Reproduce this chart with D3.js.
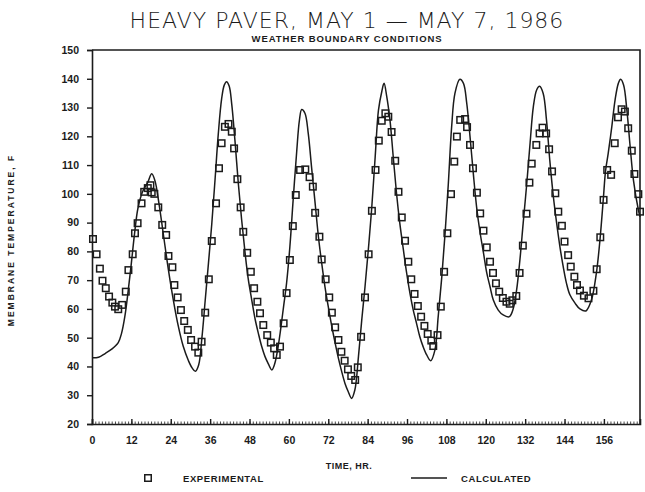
<!DOCTYPE html>
<html><head><meta charset="utf-8">
<script src="https://cdn.jsdelivr.net/npm/d3@7"></script>
<style>body{margin:0;background:#fff}svg{display:block}</style>
</head><body><svg id="c" width="645" height="492"></svg>
<script>
// ---- data ----
const xTickValues = [0,12,24,36,48,60,72,84,96,108,120,132,144,156];
const yTickValues = [20,30,40,50,60,70,80,90,100,110,120,130,140,150];

const calcTime = [0,2,4,6,8,9,10,11,12,13,14,15.5,17,18.2,19.2,20.4,21.7,23.3,24.8,26.3,27.8,29.4,30.5,31.5,32.5,33.5,34.5,35.5,36.5,37.5,38.5,39.5,40.3,41,41.8,42.6,43.6,44.6,45.6,46.6,47.6,48.7,49.7,50.7,51.7,52.7,53.7,54.8,55.7,56.6,57.5,58.4,59.3,60.3,61.3,62.4,63.2,63.9,64.9,65.9,66.9,68,69,70,71,72,73.1,74.1,75.1,76.1,77.1,78.1,79.1,80.1,81.2,82.2,83.2,84.2,85.2,86.3,87.3,88.3,89,89.8,90.8,91.8,92.8,93.8,94.9,95.9,96.9,97.9,98.9,99.9,100.9,102,103.2,104.5,105.5,106.6,107.6,108.6,109.6,110.6,112.1,113.2,114.2,115.2,116.2,117.2,118.2,119.3,120.3,121.3,122.3,123.8,125.3,127.2,128.4,129.4,130.4,131.4,132.5,133.5,134.5,135.5,136.4,137.5,138.5,139.5,140.6,141.6,142.6,143.6,144.6,145.6,147.2,148.7,150.5,152.2,153.7,154.8,155.8,156.5,157.3,158.4,159.4,160.4,161.1,162,163,164,165,166.5,167];
const calcTemp = [43,43.2,44.5,46,48.3,51.5,57.3,66,76,86.5,95,101,104,107,104.5,96.7,86.3,73.5,63,54,47,42,39.5,38.3,40.5,50,63,76,89.5,105,121,133,137.8,139,137.5,131,118,103.5,91,80,70.5,63,56.5,51.5,47,43.5,41,38.8,41,46,53,61,69,81.6,97.9,115,125.5,129.3,128,121,109.4,96.7,85.1,75.9,67.7,60.8,53.8,48.1,42.8,38.2,34.1,31.2,28.9,31.8,43.4,56.1,67.7,80.5,94.4,112.9,129.1,135.5,138.4,134,125.7,112.9,100.2,89.8,80.5,72.4,65.4,59.6,55,50.3,46.9,44,42,45.7,57.3,71.2,86.3,103.7,123.3,134.9,139.8,138.4,131.5,119.9,107.1,95.5,87,79.5,72.5,67.7,63.1,59.6,57.9,57.3,60.2,66.6,77,89.8,103.7,117.6,130.3,136.1,137.4,134.9,125.7,111.8,99,89.8,81.6,74.7,68.9,65,62,60,59.3,63.1,72.4,84,97.9,108,114,123.3,132.6,138.4,139.8,137.8,129.1,116.4,104.8,94.4,92];

const expTime = [0.3,1.4,2.4,3.2,4.2,5.2,6.2,7,8,9.2,10.3,11.1,12.4,13.1,13.9,15.1,15.9,17,17.8,18.2,19,20.2,21.4,22.6,23.3,24.5,25.1,26.1,27.1,28.1,29.2,30.2,31.4,32.4,33.4,34.5,35.6,36.5,37.8,38.7,39.5,40.5,41.6,42.6,43.3,44.3,45.3,46.1,47.3,48.4,49.4,50.4,51.2,52.2,53.4,54.5,55.5,56.3,57.3,58.4,59.3,60.3,61.2,62.1,63.4,65,66.3,67.3,68,69.3,70,71.2,72.3,73.1,74.1,75.1,76,77,78,79,80.2,81,82,83.2,84.3,85.3,86.4,87.4,88.3,89.4,90.3,91.3,92.4,93.4,94.4,95.4,96.4,97.3,98.3,99.3,100.3,101.3,102.3,103.4,104,105.3,106.3,107.3,108.3,109.4,110.4,111.2,112.2,113.7,114.3,115.2,116.1,117.3,118.3,119.3,120.3,121.3,122.2,123.1,124.1,125.2,126.3,127.3,128.1,129.3,130.3,131.3,132.4,133.3,134,135.4,136.4,137.3,138.4,139.3,140.2,141.2,142.1,143.2,144,145.1,145.9,147,147.8,148.7,149.9,151.3,152.8,153.8,154.9,155.9,157,158.2,159.3,160.3,161.4,162.4,163.4,164.5,165.3,166.5,167];
const expTemp = [84.3,79,74,69.8,67.2,64.3,62.2,60.8,59.9,61.4,66,73.5,79,86.3,89.8,96.7,100.7,102,103,100.5,100,95.3,89.2,85.7,78.4,74.5,68.3,64,59.6,55.8,52.7,49.2,46.9,44.8,48.6,58.7,70.3,83.6,96.7,108.9,117.6,123.3,124.3,121.6,115.8,105.1,95.3,86.8,79.5,72.9,67.2,62.5,58.5,54.4,50.9,48.3,46.3,44,46.9,55,65.5,77,88.8,99.6,108.3,108.5,105.8,102.5,93.4,85.1,77.2,70.3,64,58.7,53.6,49.2,45.1,42,39,36.7,35.3,39.7,50.3,64,79,94.1,108.3,118.5,125.4,128,126.8,121.5,111.5,100.7,91.8,83.7,76.4,70.3,65.2,61,57.3,54.1,51.3,49,47.1,50.9,60.8,72.9,86.3,99.9,111.2,119.9,125.7,126,123.2,117,108.9,100.4,93.2,87.2,81.4,76.4,72.5,68.9,66,63.8,62.5,61.8,63,64.5,72.5,82,93.1,103.9,110.5,117,121,123,121,115.5,107.8,100.2,93.8,88.9,83.4,78.7,74.7,71.2,68.3,66.4,64.6,63.7,66.3,73.8,84.9,97.9,108.3,106.6,117.6,126.6,129.4,128.6,122.8,115,106.9,99.9,93.8];

const titleText = "HEAVY PAVER, MAY 1 \u2014 MAY 7, 1986";
const subtitleText = "WEATHER BOUNDARY CONDITIONS";
const yTitleText = "MEMBRANE TEMPERATURE, F";
const xTitleText = "TIME, HR.";
const legendLabels = ["EXPERIMENTAL", "CALCULATED"];

// ---- drawing ----
(function(){
const svg = d3.select("#c");
const ink = "#1b1b1b";
const L = 92, R = 640, T = 50, B = 424;
const x = d3.scaleLinear().domain([0,167]).range([L,R]);
const y = d3.scaleLinear().domain([20,150]).range([B,T]);
const labFont = "'Liberation Sans', Arial, sans-serif";

svg.append("path")
  .attr("d", `M${L},${T}H${R}V${B}`)
  .attr("fill","none").attr("stroke",ink).attr("stroke-width",1.6);

const yAxis = svg.append("g").attr("transform",`translate(${L},0)`)
  .call(d3.axisLeft(y).tickValues(yTickValues).tickSize(5).tickPadding(8).tickFormat(d3.format("d")));
yAxis.select(".domain").attr("stroke",ink).attr("stroke-width",1.6);
yAxis.selectAll(".tick line").attr("stroke",ink).attr("stroke-width",1.4);
yAxis.selectAll("text").attr("fill",ink).style("font-family",labFont).style("font-size","10.5px").style("font-weight","bold");

svg.append("g").attr("transform",`translate(0,${B})`)
  .call(d3.axisBottom(x).tickValues(d3.range(0,168,1)).tickSize(-2.5).tickFormat(""))
  .call(g=>g.select(".domain").remove())
  .selectAll(".tick line").attr("stroke",ink).attr("stroke-width",0.8);

const xAxis = svg.append("g").attr("transform",`translate(0,${B})`)
  .call(d3.axisBottom(x).tickValues(xTickValues).tickSize(-5).tickPadding(13).tickFormat(d3.format("d")));
xAxis.select(".domain").attr("stroke",ink).attr("stroke-width",1.6);
xAxis.selectAll(".tick line").attr("stroke",ink).attr("stroke-width",1.4);
xAxis.selectAll("text").attr("fill",ink).style("font-family",labFont).style("font-size","10.5px").style("font-weight","bold");

const calc = calcTime.map((t,i)=>[t,calcTemp[i]]);
svg.append("path").datum(calc)
  .attr("fill","none").attr("stroke",ink).attr("stroke-width",1.5)
  .attr("d", d3.line().x(d=>x(d[0])).y(d=>y(d[1])).curve(d3.curveCatmullRom.alpha(0.5)));

const exp = expTime.map((t,i)=>[t,expTemp[i]]);
const s = 6.5;
svg.append("g").selectAll("rect").data(exp).join("rect")
  .attr("x",d=>x(d[0])-s/2).attr("y",d=>y(d[1])-s/2)
  .attr("width",s).attr("height",s)
  .attr("fill","none").attr("stroke",ink).attr("stroke-width",1.5);

svg.append("text").attr("x",347).attr("y",28).attr("text-anchor","middle")
  .style("font-family","'DejaVu Sans', sans-serif").style("font-weight","200").style("font-size","22px").style("letter-spacing","1px")
  .attr("fill",ink).text(titleText);
svg.append("text").attr("x",347).attr("y",42).attr("text-anchor","middle")
  .style("font-family",labFont).style("font-weight","bold").style("font-size","9.5px").style("letter-spacing","0.9px")
  .attr("fill",ink).text(subtitleText);
svg.append("text").attr("transform","translate(14,240) rotate(-90)").attr("text-anchor","middle")
  .style("font-family",labFont).style("font-weight","bold").style("font-size","8.5px").style("letter-spacing","2px")
  .attr("fill",ink).text(yTitleText);
svg.append("text").attr("x",349).attr("y",469).attr("text-anchor","middle")
  .style("font-family",labFont).style("font-weight","bold").style("font-size","9px").style("letter-spacing","0.5px")
  .attr("fill",ink).text(xTitleText);

svg.append("rect").attr("x",148-s/2).attr("y",478-s/2).attr("width",s).attr("height",s)
  .attr("fill","none").attr("stroke",ink).attr("stroke-width",1.5);
svg.append("text").attr("x",183).attr("y",482)
  .style("font-family",labFont).style("font-weight","bold").style("font-size","9.5px").style("letter-spacing","0.6px")
  .attr("fill",ink).text(legendLabels[0]);
svg.append("line").attr("x1",411).attr("x2",447).attr("y1",478).attr("y2",478)
  .attr("stroke",ink).attr("stroke-width",1.4);
svg.append("text").attr("x",461).attr("y",482)
  .style("font-family",labFont).style("font-weight","bold").style("font-size","9.5px").style("letter-spacing","0.6px")
  .attr("fill",ink).text(legendLabels[1]);
})();
</script>
</body></html>
